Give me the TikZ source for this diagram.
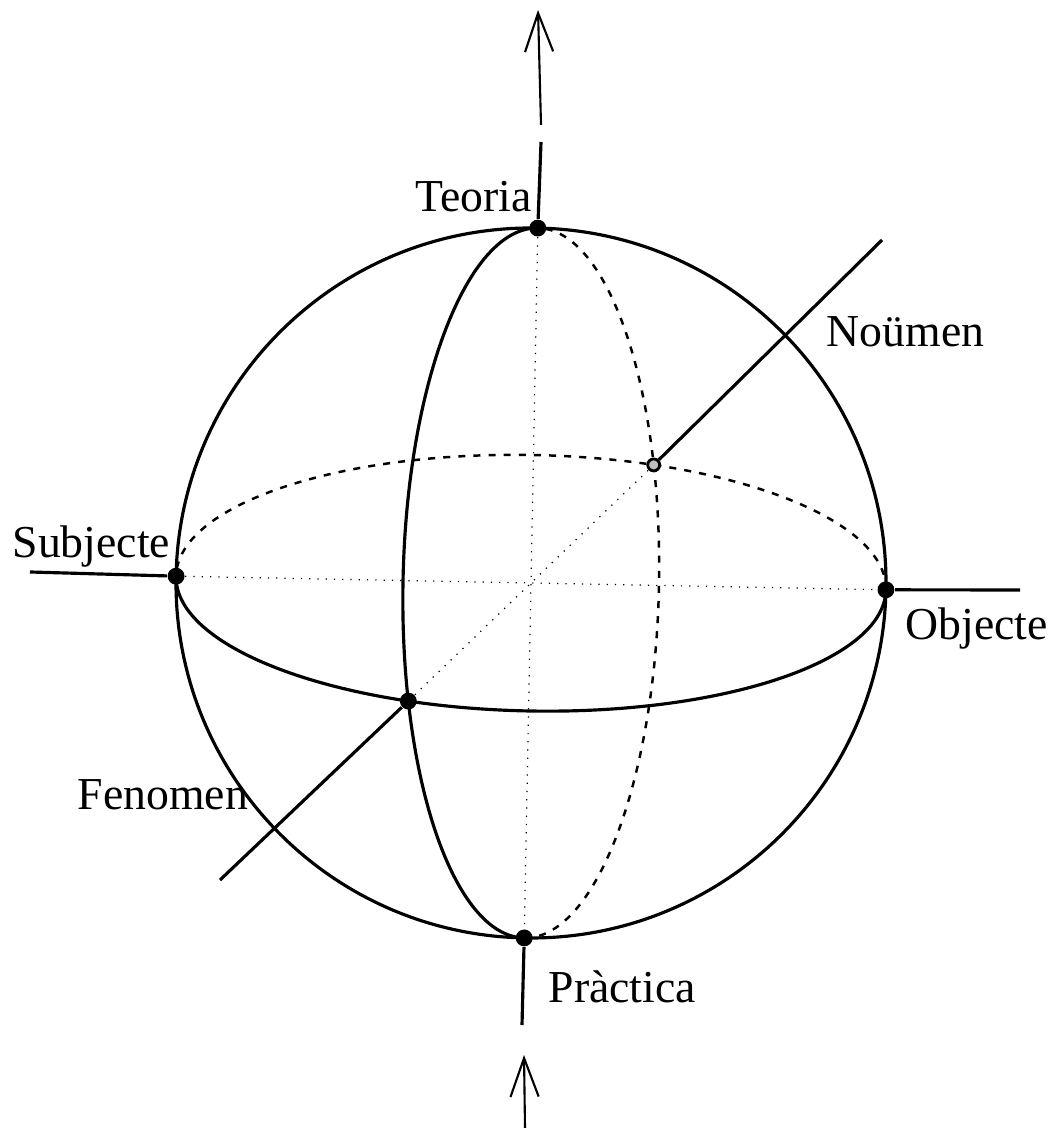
\documentclass[tikz,border=0pt]{standalone}
\usepackage{fontspec}
\setmainfont{Liberation Serif}
\usetikzlibrary{arrows.meta}

\tikzset{
  sphere/.style={line width=0.9pt},
  hidden/.style={line width=0.7pt, dash pattern=on 2pt off 2.3pt},
  axisline/.style={line width=0.35pt, dotted},
  pole/.style={circle, fill=black, inner sep=0pt, minimum size=4.8pt},
  ghostpole/.style={circle, draw=black, fill=black!25, line width=0.8pt, inner sep=0pt, minimum size=3.4pt},
  lbl/.style={anchor=base west, inner sep=0pt, font=\fontsize{13}{15}\selectfont},
  barb/.style={line width=0.6pt, -{Straight Barb[length=11pt, width=8pt]}}
}

\begin{document}
\begin{tikzpicture}[x=0.01cm, y=0.01cm]
    \useasboundingbox (0,0) rectangle (1054,1128);

    \begin{scope}[shift={(531,545)}, rotate=-1.1]
      % sphere and its two great circles
      \draw[sphere] (0,0) circle (355);
      \draw[sphere] (-355,0) arc[start angle=180, end angle=360, x radius=355, y radius=128];
      \draw[hidden] (355,0) arc[start angle=0, end angle=180, x radius=355, y radius=128];
      \draw[sphere] (0,355) arc[start angle=90, end angle=270, x radius=128, y radius=355];
      \draw[hidden] (0,-355) arc[start angle=270, end angle=450, x radius=128, y radius=355];

      \node[pole] (teo) at (0,355) {};
      \node[pole] (pra) at (0,-355) {};
      \node[pole] (sub) at (-355,0) {};
      \node[pole] (obj) at (355,0) {};
      \node[pole] (fen) at (-120.4,-120.4) {};
      \node[ghostpole] (nou) at (120.4,120.4) {};
    \end{scope}

    % axes through the centre
    \draw[axisline] (teo) -- (pra);
    \draw[axisline] (sub) -- (obj);
    \draw[axisline] (fen) -- (nou);

    % outer lines
    \coordinate (teoA) at (541,986);
    \coordinate (teoB) at (541,1003);
    \coordinate (teoTip) at (538,1118);
    \coordinate (praA) at (522,103);
    \coordinate (praB) at (525,0);
    \coordinate (praTip) at (524,73);
    \coordinate (subEnd) at (30,556);
    \coordinate (objEnd) at (1020,538);
    \coordinate (nouEnd) at (882,888);
    \coordinate (fenEnd) at (220,248);

    \draw[sphere] (teo) -- (teoA);
    \draw[barb] (teoB) -- (teoTip);
    \draw[sphere] (pra) -- (praA);
    \draw[barb] (praB) -- (praTip);
    \draw[sphere] (sub) -- (subEnd);
    \draw[sphere] (obj) -- (objEnd);
    \draw[sphere] (nou) -- (nouEnd);
    \draw[sphere] (fen) -- (fenEnd);

    \node[lbl] (lteo) at (415,916) {Teoria};
    \node[lbl] (lnou) at (826,781) {Noümen};
    \node[lbl] (lsub) at (12,570) {Subjecte};
    \node[lbl] (lobj) at (905,488) {Objecte};
    \node[lbl] (lfen) at (77,318) {Fenomen};
    \node[lbl] (lpra) at (548,125) {Pràctica};
\end{tikzpicture}
\end{document}
